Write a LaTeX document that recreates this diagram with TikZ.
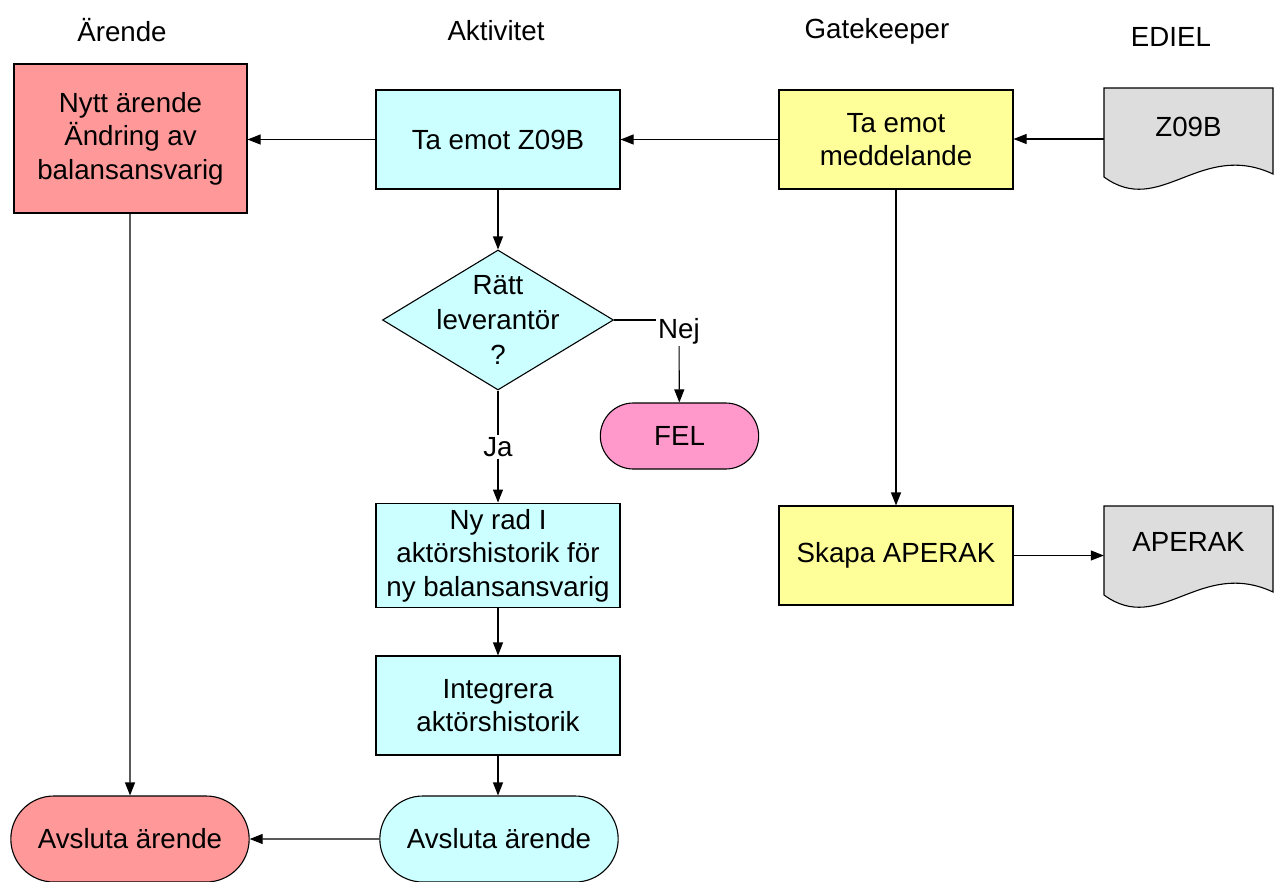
\documentclass[tikz,border=0pt]{standalone}
\usepackage{fontspec}
\setmainfont{Liberation Sans}
\usepackage{xcolor}
\usetikzlibrary{arrows.meta,shapes.geometric,shapes.misc}

\definecolor{arendered}{HTML}{FF9999}
\definecolor{aktcyan}{HTML}{CCFFFF}
\definecolor{gateyellow}{HTML}{FFFF99}
\definecolor{felpink}{HTML}{FF99CC}
\definecolor{docgray}{HTML}{DDDDDD}

\begin{document}
\begin{tikzpicture}[
    x=1pt, y=-1pt,
    font={\fontsize{27.7pt}{33.5pt}\selectfont},
    box/.style={draw, line width=1.1pt, minimum height=99pt, minimum width=240pt,
      align=center, inner sep=6pt},
    arendebox/.style={box, fill=arendered, minimum width=233pt, minimum height=149pt},
    aktbox/.style={box, fill=aktcyan, minimum width=244pt},
    gatebox/.style={box, fill=gateyellow, minimum width=234pt},
    term/.style={draw, line width=1.1pt, rounded rectangle, minimum height=86pt,
      minimum width=245pt, align=center},
    decision/.style={draw, line width=1.1pt, diamond, fill=aktcyan, minimum width=231pt,
      minimum height=140pt, inner sep=0pt},
    docarea/.style={minimum width=169pt, minimum height=102pt, inner sep=0pt},
    docline/.style={draw, line width=1.1pt, fill=docgray},
    head/.style={inner sep=2pt},
    ar/.style={-{Triangle[length=13pt, width=10pt]}, line width=1.1pt},
    ln/.style={line width=1.1pt},
  ]
    \useasboundingbox (0,0) rectangle (1276,881);
    % Column headings
    \node[head] (hArende) at (122,30)  {Ärende};
    \node[head] (hAkt)    at (496,31)  {Aktivitet};
    \node[head] (hGate)   at (877,31)  {Gatekeeper};
    \node[head] (hEdiel)  at (1171,37) {EDIEL};
    % EDIEL documents
    \draw[docline] (1104,88) -- (1273,88) -- (1273,174)
      .. controls (1200,140) and (1160,218) .. (1104,177) -- cycle;
    \draw[docline] (1104,506) -- (1273,506) -- (1273,592)
      .. controls (1200,558) and (1160,636) .. (1104,595) -- cycle;
    \node[docarea] (zdoc) at (1188.5,139) {};
    \node[docarea] (adoc) at (1188.5,557) {};
    \node (zdocText) at (1188.5,127) {Z09B};
    \node (adocText) at (1188.5,542) {APERAK};
    % Gatekeeper column
    \node[gatebox] (medd)  at (896,139.5) {Ta emot\\meddelande};
    \node[gatebox] (skapa) at (896,555.5) {Skapa APERAK};
    % Aktivitet column
    \node[aktbox]   (z09b)  at (498,139.5) {Ta emot Z09B};
    \node[decision, label={[align=center, font={\fontsize{27.7pt}{35pt}\selectfont}]center:{Rätt\\leverantör\\?}}]
                    (ratt)  at (498,320) {};
    \node[term, fill=felpink, minimum width=165pt, minimum height=66pt]
                    (fel)   at (679.5,436) {FEL};
    \node[head]     (nej)   at (679,331) {Nej};
    \node[head]     (ja)    at (498,447) {Ja};
    \node[aktbox]   (nyrad) at (498,555.5) {Ny rad I\\aktörshistorik för\\ny balansansvarig};
    \node[aktbox]   (integ) at (498,705.5) {Integrera\\aktörshistorik};
    \node[term, fill=aktcyan] (avsR) at (499,839) {Avsluta ärende};
    % Ärende column
    \node[arendebox] (arende) at (130.5,138.5) {Nytt ärende\\Ändring av\\balansansvarig};
    \node[term, fill=arendered] (avsL) at (130,839) {Avsluta ärende};
    % Message flow
    \draw[ar] (zdoc.west) -- (zdoc.west -| medd.east);
    \draw[ar] (medd) -- (z09b);
    \draw[ar] (z09b) -- (arende.east |- z09b);
    \draw[ar] (medd) -- (skapa);
    \draw[ar] (skapa) -- (skapa -| adoc.west);
    % Activity flow
    \draw[ar] (z09b) -- (ratt);
    \draw[ln] (ratt.east) -- (ratt.east -| nej.west);
    \draw[ar] (nej) -- (fel);
    \draw[ln] (ratt) -- (ja);
    \draw[ar] (ja) -- (nyrad);
    \draw[ar] (nyrad) -- (integ);
    \draw[ar] (integ) -- (avsR.north -| integ);
    \draw[ar] (avsR) -- (avsL);
    \draw[ar] (arende.south -| avsL) -- (avsL);
  \end{tikzpicture}
\end{document}
